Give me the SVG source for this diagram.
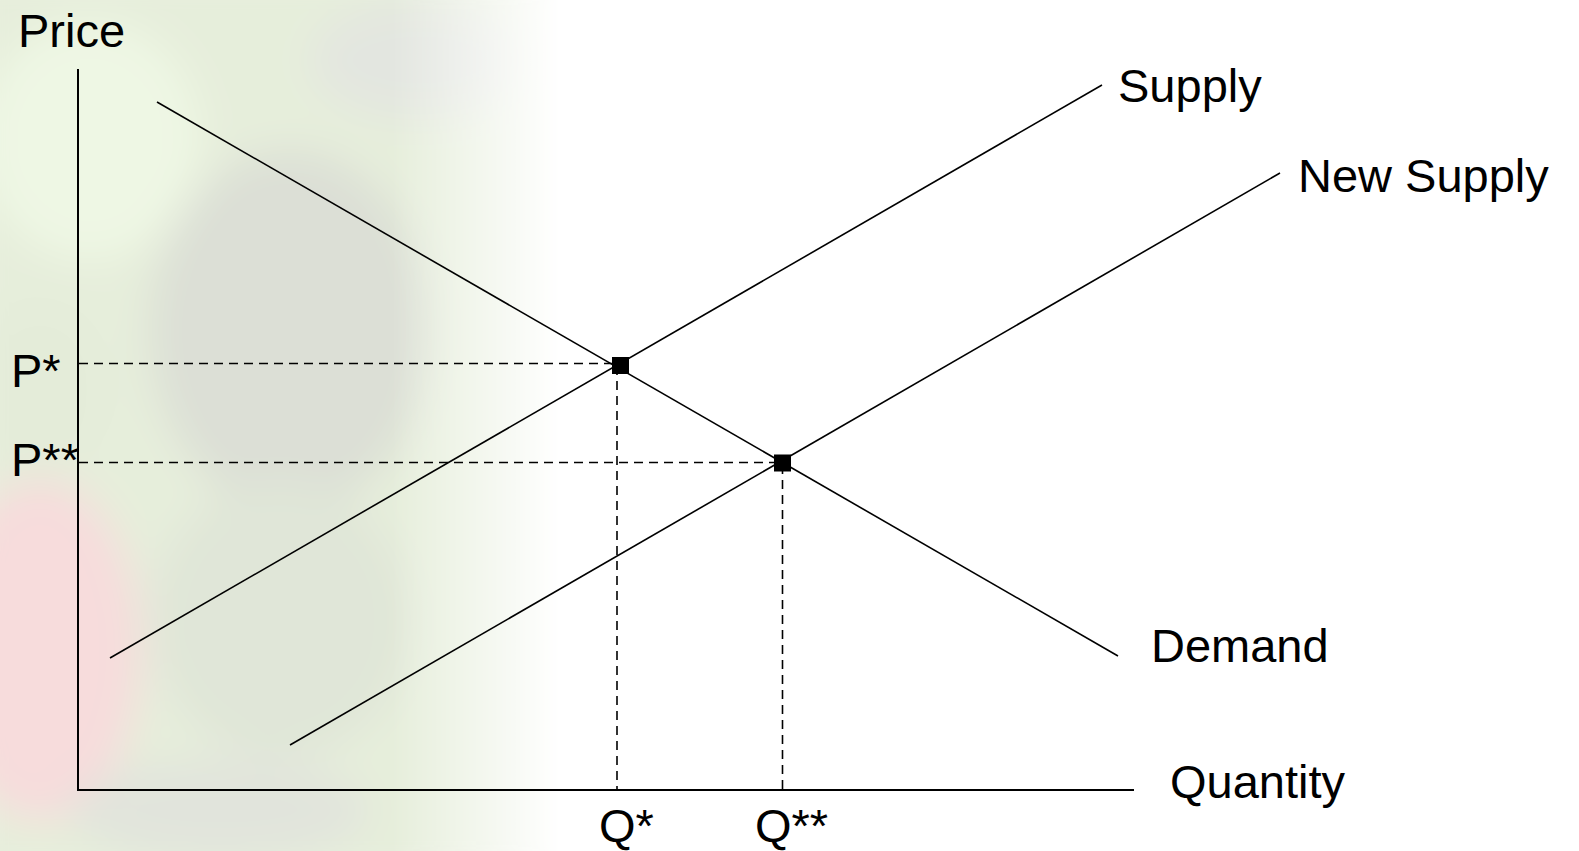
<svg xmlns="http://www.w3.org/2000/svg" width="1579" height="851" viewBox="0 0 1579 851">
<style>
.lbl{font-family:"Liberation Sans",Arial,sans-serif;font-size:47px;fill:#000}
.crv{stroke:#000;stroke-width:1.6;fill:none}
.axis{stroke:#000;stroke-width:2;fill:none}
.dash{stroke:#000;stroke-width:1.6;stroke-dasharray:9 6;fill:none}
.pt{fill:#000}
</style>
<defs>
<linearGradient id="fade" x1="0" y1="0" x2="1" y2="0">
<stop offset="0" stop-color="#fff"/>
<stop offset="0.7" stop-color="#fff"/>
<stop offset="1" stop-color="#000"/>
</linearGradient>
<mask id="fm" maskUnits="userSpaceOnUse" x="0" y="0" width="600" height="851">
<rect x="0" y="0" width="560" height="851" fill="url(#fade)"/>
</mask>
<filter id="blur" x="-20%" y="-20%" width="140%" height="140%"><feGaussianBlur stdDeviation="20"/></filter>
</defs>
<rect width="1579" height="851" fill="#fff"/>
<g id="background" mask="url(#fm)">
<g filter="url(#blur)">
<rect x="-40" y="-40" width="640" height="930" fill="#e6eedb"/>
<ellipse cx="90" cy="140" rx="110" ry="120" fill="#eef7e4"/>
<ellipse cx="290" cy="330" rx="140" ry="180" fill="#dcdfd6"/>
<ellipse cx="420" cy="60" rx="110" ry="60" fill="#e3e6e0"/>
<ellipse cx="280" cy="620" rx="130" ry="140" fill="#e0e6d8"/>
<ellipse cx="40" cy="650" rx="100" ry="170" fill="#f7dcdc"/>
<ellipse cx="220" cy="810" rx="150" ry="50" fill="#e1e4dc"/>
<ellipse cx="40" cy="390" rx="70" ry="90" fill="#e4ecd9"/>
</g>
</g>
<g id="connectors">
<line class="axis" x1="78" y1="69" x2="78" y2="790"/>
<line class="axis" x1="77" y1="790" x2="1134" y2="790"/>
<line class="crv" x1="157" y1="102" x2="1118" y2="656"/>
<line class="crv" x1="110" y1="658" x2="1102" y2="85"/>
<line class="crv" x1="290" y1="745" x2="1280" y2="173"/>
<line class="dash" x1="79" y1="363.5" x2="618" y2="363.5"/>
<line class="dash" x1="79" y1="462.5" x2="780" y2="462.5"/>
<line class="dash" x1="617" y1="366" x2="617" y2="789"/>
<line class="dash" x1="782.5" y1="465" x2="782.5" y2="789"/>
</g>
<g id="eq1"><rect class="pt" x="612" y="357" width="17" height="17"/></g>
<g id="eq2"><rect class="pt" x="774" y="454.5" width="17" height="17"/></g>
<g id="labels">
<text class="lbl" x="18" y="47">Price</text>
<text class="lbl" x="11" y="387">P*</text>
<text class="lbl" x="11" y="476">P**</text>
<text class="lbl" x="599" y="842">Q*</text>
<text class="lbl" x="755" y="842">Q**</text>
<text class="lbl" x="1118" y="102">Supply</text>
<text class="lbl" x="1298" y="192">New Supply</text>
<text class="lbl" x="1151" y="662">Demand</text>
<text class="lbl" x="1170" y="798">Quantity</text>
</g>
</svg>
